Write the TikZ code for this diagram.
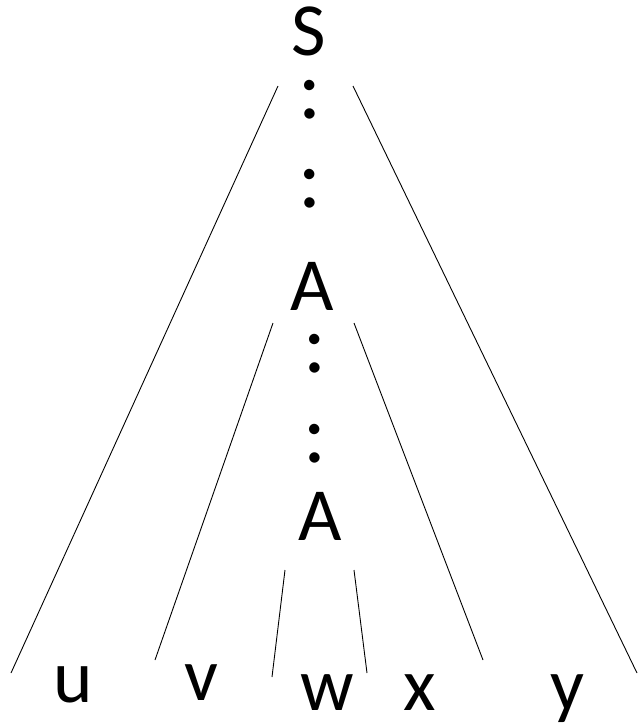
\documentclass[tikz,border=0pt]{standalone}
\usepackage{fontspec}
\setmainfont{Carlito}
\begin{document}
\begin{tikzpicture}[x=1pt,y=-1pt,
  lbl/.style={anchor=base,inner sep=0pt,font=\fontsize{75}{80}\selectfont},
  col/.style={anchor=base,inner sep=0pt,font=\fontsize{86}{90}\selectfont},
  ln/.style={line width=0.9pt}]
\useasboundingbox (0,0) rectangle (638,723);
% labels
\node[lbl] (S) at (309,55) {S};
\node[col] (c1) at (310,118) {:};
\node[col] (c2) at (310,207) {:};
\node[lbl] (A1) at (312,310) {A};
\node[col] (c3) at (315,372) {:};
\node[col] (c4) at (315,462) {:};
\node[lbl] (A2) at (320,540) {A};
\node[lbl] (u) at (73,702) {u};
\node[lbl] (v) at (201,700) {v};
\node[lbl] (w) at (327,710) {w};
\node[lbl] (x) at (420,710) {x};
\node[lbl] (y) at (567,710) {y};
% line endpoints
\coordinate (oLt) at (278,86);  \coordinate (oLb) at (11,673);
\coordinate (oRt) at (353,86);  \coordinate (oRb) at (637,673);
\coordinate (iLt) at (273,323); \coordinate (iLb) at (155,660);
\coordinate (iRt) at (354,323); \coordinate (iRb) at (483,660);
\coordinate (nLt) at (285,570); \coordinate (nLb) at (272,677);
\coordinate (nRt) at (354,570); \coordinate (nRb) at (367,673);
\draw[ln] (oLt) -- (oLb);
\draw[ln] (oRt) -- (oRb);
\draw[ln] (iLt) -- (iLb);
\draw[ln] (iRt) -- (iRb);
\draw[ln] (nLt) -- (nLb);
\draw[ln] (nRt) -- (nRb);
\end{tikzpicture}
\end{document}
